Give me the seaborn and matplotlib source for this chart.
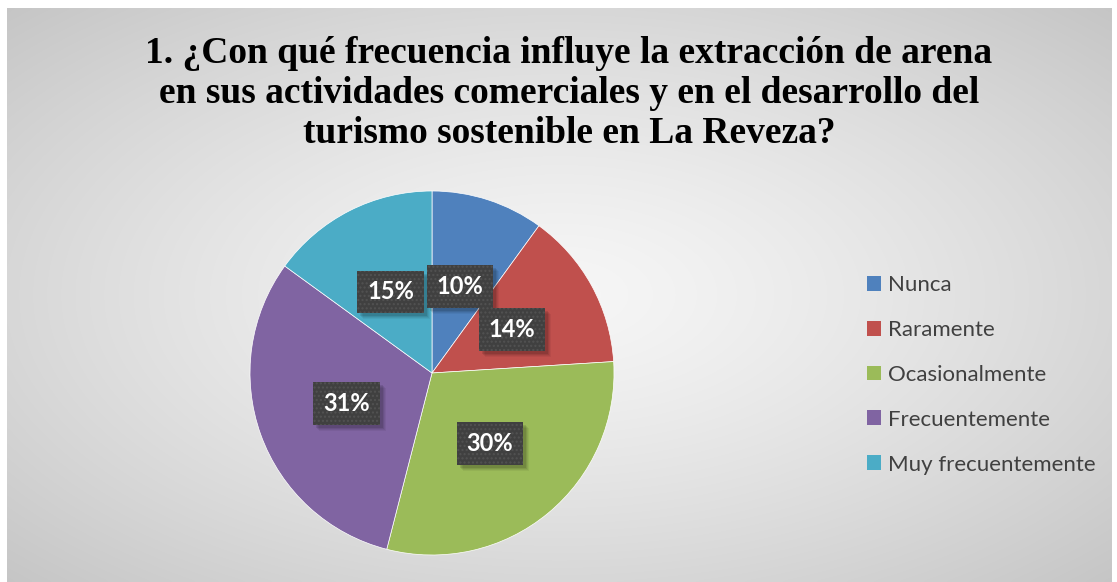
import numpy as np
import pandas as pd
import matplotlib
matplotlib.use("Agg")
import matplotlib.pyplot as plt
from matplotlib.patches import Patch, Rectangle
import seaborn as sns

# ---- data ----
categories = ["Nunca", "Raramente", "Ocasionalmente", "Frecuentemente", "Muy frecuentemente"]
values = [10, 14, 30, 31, 15]
colors = ["#4F81BD", "#C0504D", "#9BBB59", "#8064A2", "#4BACC6"]
title = ("1. ¿Con qué frecuencia influye la extracción de arena\n"
         "en sus actividades comerciales y en el desarrollo del\n"
         "turismo sostenible en La Reveza?")

df = pd.DataFrame({"categoria": categories, "valor": values})

sns.set_theme(style="white")
plt.rcParams["font.family"] = ["Lato", "DejaVu Sans"]
plt.rcParams["hatch.linewidth"] = 1.0

W, H, DPI = 1117, 582, 100
fig = plt.figure(figsize=(W / DPI, H / DPI), dpi=DPI, facecolor="white")

# background chart area with radial gradient
x0, y0, x1, y1 = 7, 8, 1112, 582
bg = fig.add_axes([x0 / W, (H - y1) / H, (x1 - x0) / W, (y1 - y0) / H])
bg.set_axis_off()
gx, gy = np.meshgrid(np.linspace(-1, 1, 400), np.linspace(-1, 1, 220))
r = np.sqrt(gx ** 2 + gy ** 2) / np.sqrt(2)
shade = 0.965 - 0.19 * r ** 1.3
bg.imshow(np.dstack([shade] * 3), aspect="auto", extent=(0, 1, 0, 1), interpolation="bicubic")
bg.set_xlim(0, 1)
bg.set_ylim(0, 1)

# pie axes
cx, cy, R = 432, 373, 182
ax = fig.add_axes([(cx - R) / W, (H - cy - R) / H, 2 * R / W, 2 * R / H])
ax.set_facecolor("none")
palette = sns.color_palette(colors)
wedges, texts, autotexts = ax.pie(
    df["valor"], colors=palette, startangle=90, counterclock=False,
    autopct=lambda p: f"{p:.0f}%", pctdistance=0.5, radius=1.0,
    wedgeprops=dict(edgecolor="white", linewidth=0.5),
    textprops=dict(color="white", fontsize=17, fontweight="bold", family=["Lato", "DejaVu Sans"]),
)
ax.set_xlim(-1, 1)
ax.set_ylim(-1, 1)
for t in autotexts:
    t.set_bbox(dict(boxstyle="square,pad=0.42", facecolor="#404040", edgecolor="#525252",
                    linewidth=0, hatch="...."))

# title
fig.text(569 / W, 1 - 36 / H, title, ha="center", va="top", fontsize=27,
         fontweight="bold", family=["Liberation Serif", "DejaVu Serif"], linespacing=1.18,
         color="black")

# legend
handles = [Patch(facecolor=c, edgecolor="none") for c in colors]
fig.legend(handles, categories, loc="upper left", bbox_to_anchor=(867 / W, 1 - 275 / H),
           frameon=False, fontsize=16, handlelength=0.65, handleheight=0.65,
           handletextpad=0.3, labelspacing=1.12, borderaxespad=0, borderpad=0,
           labelcolor="#404040")

# soft shadows behind label boxes
fig.canvas.draw()
renderer = fig.canvas.get_renderer()
inv = ax.transData.inverted()
for t in autotexts:
    bb = t.get_bbox_patch().get_window_extent(renderer)
    for k, a in [(6, 0.05), (5, 0.06), (4, 0.08), (3, 0.1)]:
        (dx0, dy0), (dx1, dy1) = inv.transform([(bb.x0 + k, bb.y0 - k), (bb.x1 + k, bb.y1 - k)])
        ax.add_patch(Rectangle((dx0, dy0), dx1 - dx0, dy1 - dy0, facecolor="black",
                               alpha=a, linewidth=0, zorder=2.5))

fig.savefig("out.png", dpi=DPI, facecolor="white")
